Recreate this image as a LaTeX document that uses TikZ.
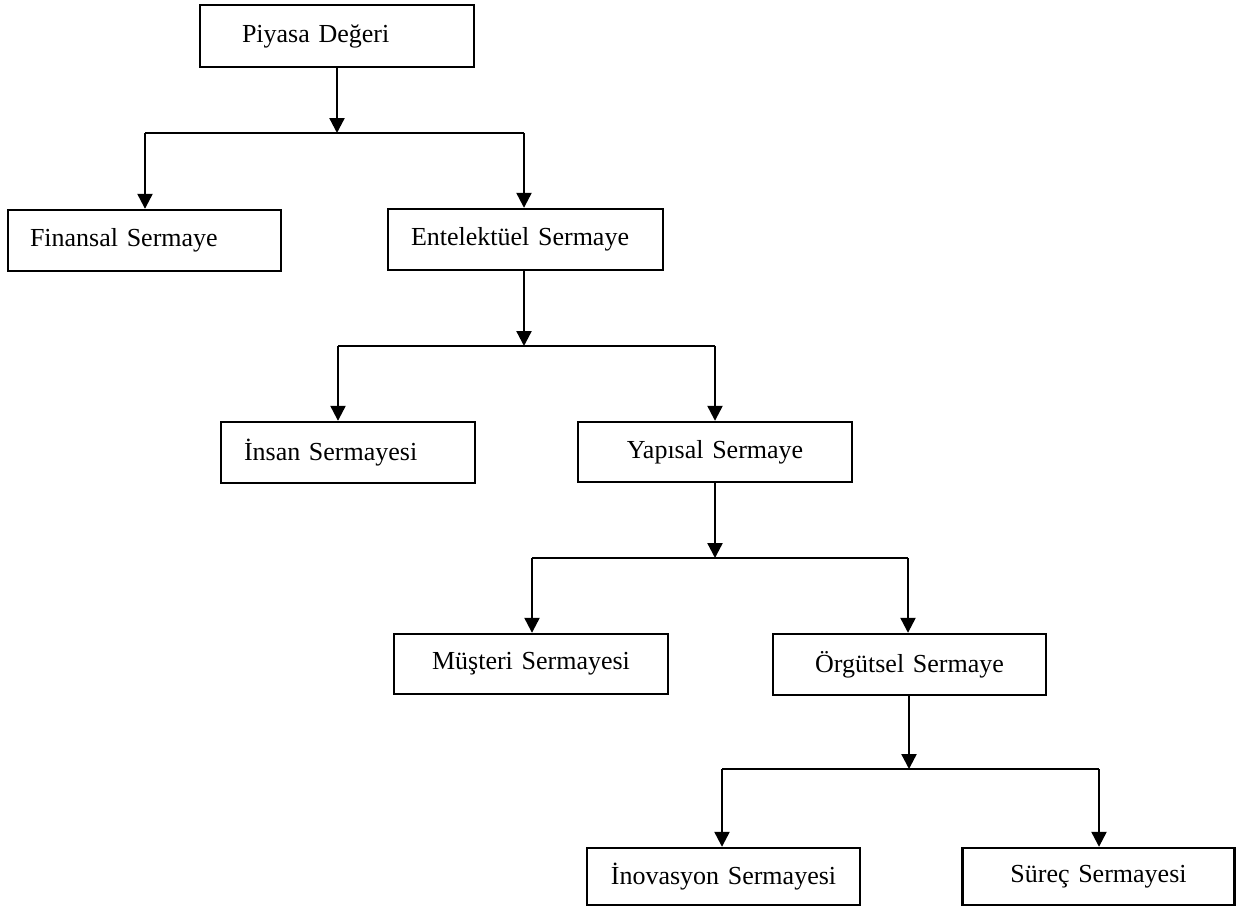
\documentclass[tikz,border=0pt]{standalone}
\usepackage{fontspec}
\setmainfont{Liberation Serif}
\usetikzlibrary{arrows.meta}
\begin{document}
\begin{tikzpicture}[x=1pt,y=-1pt,
  box/.style={draw, line width=2.4pt, rectangle, inner ysep=0pt,
    font=\fontsize{26}{30}\selectfont, minimum width=274pt, minimum height=61pt},
  lbox/.style={box, inner xsep=22pt, text width=229pt, align=left},
  cbox/.style={box, inner xsep=0pt, text width=272pt, align=center},
  arr/.style={line width=2.3pt, -{Triangle[width=15pt,length=15pt]}},
  bar/.style={line width=1.4pt}
]
\useasboundingbox (0,0) rectangle (1236,906);

% nodes
\node[box, inner xsep=42pt, text width=190pt, align=left, minimum height=62pt] (pd) at (337,36) {Piyasa Değeri};
\node[lbox, minimum width=273pt] (fin) at (144.5,240.5) {Finansal Sermaye};
\node[lbox, minimum width=275pt] (ent) at (525.5,239.5) {Entelektüel Sermaye};
\node[box, inner xsep=23pt, text width=208pt, align=left, minimum width=254pt] (ins) at (348,452.5) {İnsan Sermayesi};
\node[cbox, minimum height=60pt] (yap) at (715,452) {Yapısal Sermaye};
\node[cbox, minimum height=60pt] (mus) at (531,664) {Müşteri Sermayesi};
\node[cbox, minimum width=273pt] (org) at (909.5,664.5) {Örgütsel Sermaye};
\node[cbox, minimum width=273pt, minimum height=57pt] (ino) at (723.5,876.5) {İnovasyon Sermayesi};
\node[cbox, minimum width=272pt, minimum height=57pt] (sur) at (1098.5,876.5) {Süreç Sermayesi};

% bracket coordinates
\coordinate (j1) at (337,133);
\coordinate (b1l) at (145,133);
\coordinate (b1r) at (524,133);
\coordinate (j2) at (524,346);
\coordinate (b2l) at (338,346);
\coordinate (b2r) at (715,346);
\coordinate (j3) at (715,558);
\coordinate (b3l) at (532,558);
\coordinate (b3r) at (908,558);
\coordinate (j4) at (909,769);
\coordinate (b4l) at (722,769);
\coordinate (b4r) at (1099,769);

% level 1
\draw[arr] (pd.south -| j1) -- (j1);
\draw[bar] (b1l) -- (b1r);
\draw[arr] (b1l) -- (b1l |- fin.north);
\draw[arr] (b1r) -- (b1r |- ent.north);

% level 2
\draw[arr] (ent.south -| j2) -- (j2);
\draw[bar] (b2l) -- (b2r);
\draw[arr] (b2l) -- (b2l |- ins.north);
\draw[arr] (b2r) -- (b2r |- yap.north);

% level 3
\draw[arr] (yap.south -| j3) -- (j3);
\draw[bar] (b3l) -- (b3r);
\draw[arr] (b3l) -- (b3l |- mus.north);
\draw[arr] (b3r) -- (b3r |- org.north);

% level 4
\draw[arr] (org.south -| j4) -- (j4);
\draw[bar] (b4l) -- (b4r);
\draw[arr] (b4l) -- (b4l |- ino.north);
\draw[arr] (b4r) -- (b4r |- sur.north);
\end{tikzpicture}
\end{document}
